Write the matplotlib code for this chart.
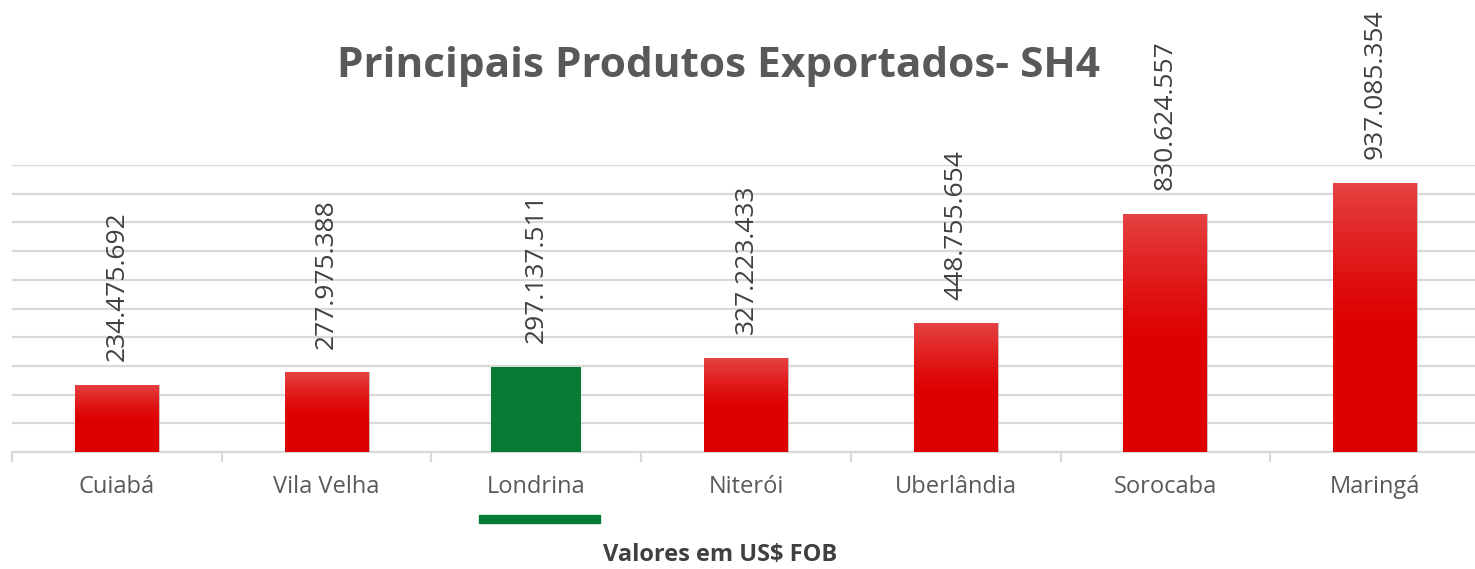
import numpy as np
import matplotlib
matplotlib.use("Agg")
import matplotlib.pyplot as plt
from matplotlib.patches import Rectangle

categories = ["Cuiabá", "Vila Velha", "Londrina", "Niterói", "Uberlândia", "Sorocaba", "Maringá"]
values = [234475692, 277975388, 297137511, 327223433, 448755654, 830624557, 937085354]
labels = ["234.475.692", "277.975.388", "297.137.511", "327.223.433", "448.755.654", "830.624.557", "937.085.354"]
highlight = "Londrina"

W, H = 1475, 569
fig = plt.figure(figsize=(W / 100, H / 100), dpi=100)
fig.patch.set_facecolor("white")

left_px, right_px, top_px, bot_px = 12, 1480, 165, 452
ax = fig.add_axes([left_px / W, 1 - bot_px / H, (right_px - left_px) / W, (bot_px - top_px) / H])
ax.set_xlim(0, len(categories))
ax.set_ylim(0, 1e9)

grid_color = "#d9d9d9"
ax.set_yticks(np.arange(1e8, 1e9 + 1, 1e8))
ax.yaxis.grid(True, color=grid_color, linewidth=1.6)
ax.set_axisbelow(True)
ax.tick_params(axis="y", left=False, labelleft=False)
for s in ["top", "right", "left"]:
    ax.spines[s].set_visible(False)
ax.spines["bottom"].set_color(grid_color)
ax.spines["bottom"].set_linewidth(1.6)

ax.set_xticks(np.arange(0, len(categories) + 1))
ax.set_xticklabels([])
ax.tick_params(axis="x", length=7, width=1.6, color=grid_color)

# gradient for red bars (row 0 = bottom)
grad = np.linspace(0, 1, 256).reshape(-1, 1)
top_c = np.array([0.90, 0.26, 0.26])
bot_c = np.array([0.87, 0.0, 0.0])
t = np.clip((grad - 0.45) / 0.55, 0, 1) ** 1.3
img = (bot_c * (1 - t) + top_c * t)[:, np.newaxis, :]
img = np.repeat(img, 2, axis=1)

x = np.arange(len(categories)) + 0.5
for i, (c, v) in enumerate(zip(categories, values)):
    if c == highlight:
        ax.bar(x[i], v, width=0.43, color="#077a33", zorder=3)
    else:
        w = 0.40
        b = ax.bar(x[i], v, width=w, color="none", edgecolor="#c9b0b0", linewidth=0.6, zorder=3)[0]
        im = ax.imshow(img, extent=[x[i] - w / 2, x[i] + w / 2, 0, v], origin="lower",
                       aspect="auto", zorder=3)
        im.set_clip_path(b)
    ax.annotate(labels[i], xy=(x[i], v), xytext=(0, 17), textcoords="offset points",
                rotation=90, ha="center", va="bottom", fontsize=19,
                family="Open Sans", color="#404040", annotation_clip=False)

cat_y = -(487 - bot_px) / (bot_px - top_px)
for i, c in enumerate(categories):
    ax.text(x[i], cat_y, c, transform=ax.get_xaxis_transform(), ha="center", va="center",
            fontsize=17, family="Open Sans", color="#595959")

ax.set_xlim(0, len(categories))
ax.set_ylim(0, 1e9)

fig.text(718 / W, 1 - 66 / H, "Principais Produtos Exportados- SH4", ha="center", va="center",
         fontsize=30.5, fontweight="bold", family="Open Sans", color="#595959")
fig.text(720 / W, 1 - 555 / H, "Valores em US$ FOB", ha="center", va="center",
         fontsize=17, fontweight="bold", family="Open Sans", color="#404040")
fig.patches.append(Rectangle((479 / W, 1 - 523 / H), (600 - 479) / W, 8 / H,
                             transform=fig.transFigure, color="#077a33"))

fig.savefig("out.png", dpi=100, facecolor="white")
